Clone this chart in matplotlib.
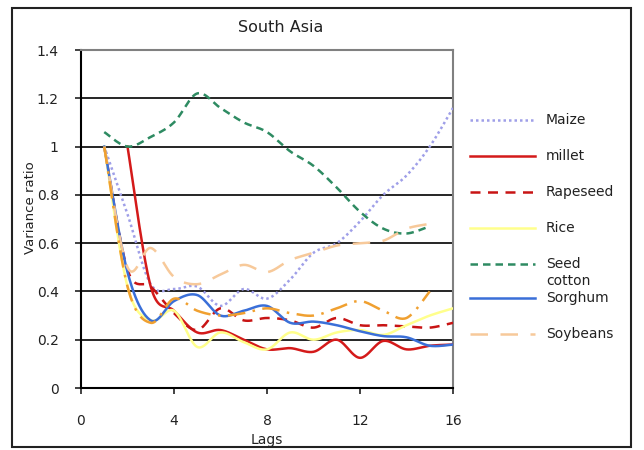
import numpy as np
import matplotlib
matplotlib.use("Agg")
import matplotlib.pyplot as plt
from matplotlib.lines import Line2D
from matplotlib.patches import Rectangle

# lags 1..16, None = no value
lags = list(range(1, 17))

maize = [1.0, 0.72, 0.43, 0.41, 0.42, 0.34, 0.41, 0.37, 0.45, 0.56, 0.6, 0.69, 0.8, 0.88, 1.0, 1.16]
millet = [None, 1.0, 0.42, 0.32, 0.23, 0.24, 0.2, 0.16, 0.165, 0.15, 0.2, 0.125, 0.195, 0.16, 0.175, 0.18]
rapeseed = [1.0, 0.49, 0.42, 0.31, 0.24, 0.33, 0.28, 0.29, 0.28, 0.25, 0.29, 0.26, 0.26, 0.255, 0.25, 0.27]
rice = [1.0, 0.42, 0.28, 0.32, 0.17, 0.23, 0.19, 0.16, 0.23, 0.2, 0.23, 0.24, 0.22, 0.26, 0.3, 0.33]
seed_cotton = [1.06, 1.0, 1.04, 1.1, 1.22, 1.16, 1.1, 1.06, 0.98, 0.92, 0.83, 0.73, 0.66, 0.64, 0.67, None]
sorghum = [1.0, 0.48, 0.28, 0.36, 0.385, 0.3, 0.32, 0.34, 0.27, 0.275, 0.26, 0.235, 0.215, 0.21, 0.175, 0.18]
soybeans = [1.0, 0.5, 0.58, 0.46, 0.43, 0.47, 0.51, 0.48, 0.53, 0.56, 0.59, 0.6, 0.61, 0.66, 0.68, None]
other = [1.0, 0.42, 0.27, 0.37, 0.32, 0.3, 0.31, 0.33, 0.31, 0.3, 0.33, 0.36, 0.32, 0.29, 0.4, None]

series = [
    ("Maize", maize, "#9f9fe8", (0, (1, 1.2))),
    ("millet", millet, "#d41a1a", "-"),
    ("Rapeseed", rapeseed, "#c81414", (0, (4, 3))),
    ("Rice", rice, "#ffff8c", "-"),
    ("Seed\ncotton", seed_cotton, "#2e8b62", (0, (3, 2))),
    ("Sorghum", sorghum, "#3a6fd8", "-"),
    ("Soybeans", soybeans, "#f7c99a", (0, (7, 5))),
    (None, other, "#f0a030", (0, (7, 3, 1, 3))),
]


def smooth(x, y, n=24):
    # excel style smoothed line (bezier through every point)
    pts = np.column_stack([x, y]).astype(float)
    out = []
    t = np.linspace(0, 1, n)[:, None]
    for i in range(len(pts) - 1):
        p0 = pts[max(i - 1, 0)]
        p1 = pts[i]
        p2 = pts[i + 1]
        p3 = pts[min(i + 2, len(pts) - 1)]
        c1 = p1 + (p2 - p0) / 6
        c2 = p2 - (p3 - p1) / 6
        seg = (1 - t) ** 3 * p1 + 3 * (1 - t) ** 2 * t * c1 + 3 * (1 - t) * t ** 2 * c2 + t ** 3 * p2
        out.append(seg if i == 0 else seg[1:])
    return np.vstack(out)


fig = plt.figure(figsize=(6.44, 4.5), dpi=100)
ax = fig.add_axes([81 / 644, 1 - 388 / 450, 372 / 644, 338 / 450])

for label, vals, color, ls in series:
    xs = [l for l, v in zip(lags, vals) if v is not None]
    ys = [v for v in vals if v is not None]
    curve = smooth(xs, ys)
    ax.plot(curve[:, 0], curve[:, 1], color=color, ls=ls, lw=1.8, zorder=3)

ax.set_xlim(0, 16)
ax.set_ylim(0, 1.4)
ax.set_xticks([0, 4, 8, 12, 16])
ax.set_yticks([0, 0.2, 0.4, 0.6, 0.8, 1.0, 1.2, 1.4])
ax.set_yticklabels(["0", "0.2", "0.4", "0.6", "0.8", "1", "1.2", "1.4"])
for g in [0.2, 0.4, 0.6, 0.8, 1.0, 1.2]:
    ax.axhline(g, color="black", lw=1.2, zorder=1)

ax.tick_params(axis="y", direction="out", length=4, width=1.2, pad=12, labelsize=10, colors="#222222")
ax.tick_params(axis="x", direction="out", length=4, width=1.2, pad=15, labelsize=10, colors="#222222")
ax.spines["left"].set_color("black")
ax.spines["bottom"].set_color("black")
ax.spines["left"].set_linewidth(1.5)
ax.spines["bottom"].set_linewidth(1.5)
ax.spines["top"].set_color("#808080")
ax.spines["right"].set_color("#808080")
ax.spines["top"].set_linewidth(1.5)
ax.spines["right"].set_linewidth(1.5)

fig.text(281 / 644, 1 - 28 / 450, "South Asia", ha="center", va="center", fontsize=11.5, color="#222222")
fig.text(30 / 644, 1 - 208 / 450, "Variance ratio", rotation=90, ha="center", va="center", fontsize=9.5, color="#222222")
fig.text(267 / 644, 1 - 440 / 450, "Lags", ha="center", va="center", fontsize=10, color="#222222")

# legend drawn by hand so the two-line entry sits like the original
legend_rows = [120, 156, 192, 228, 264, 298, 334]
for (label, vals, color, ls), row in zip(series[:7], legend_rows):
    yf = 1 - row / 450
    fig.add_artist(Line2D([470 / 644, 535 / 644], [yf, yf], color=color, ls=ls, lw=1.8,
                          transform=fig.transFigure))
    fig.text(546 / 644, yf, label.split("\n")[0], ha="left", va="center", fontsize=10, color="#222222")
    if "\n" in label:
        fig.text(546 / 644, 1 - (row + 17) / 450, label.split("\n")[1], ha="left", va="center",
                 fontsize=10, color="#222222")

fig.add_artist(Rectangle((12 / 644, 1 - 447 / 450), 619 / 644, 439 / 450, fill=False,
                         edgecolor="#222222", lw=1.5, transform=fig.transFigure))

fig.savefig("out.png", dpi=100)
